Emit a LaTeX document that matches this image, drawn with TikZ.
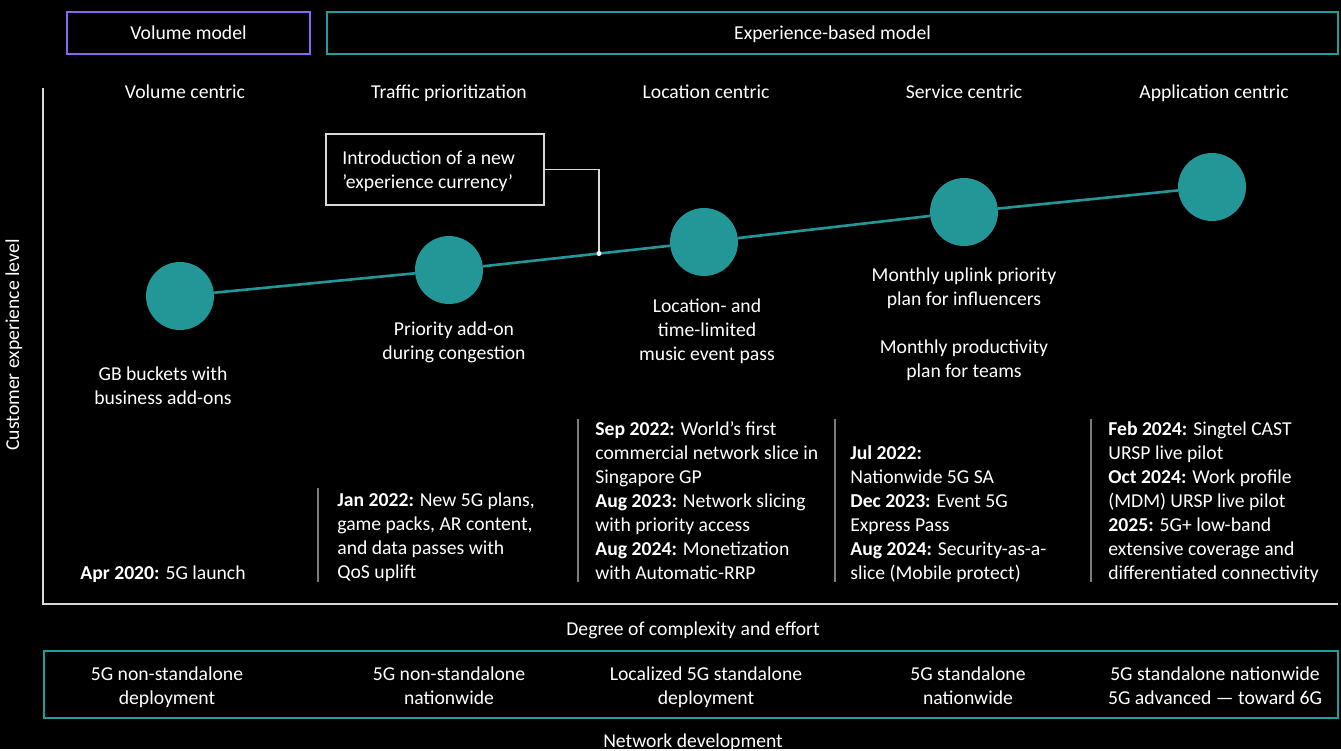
\documentclass[tikz,border=0pt]{standalone}
\usepackage{fontspec}
\setmainfont{Carlito}
\definecolor{slicegreen}{HTML}{239697}
\definecolor{edgeteal}{HTML}{1F9E9E}
\definecolor{volpurple}{HTML}{8C64F0}
\definecolor{sepgray}{HTML}{7C7C7C}
\definecolor{axisgray}{HTML}{D8D8D8}

\begin{document}
\begin{tikzpicture}[x=0.02cm,y=-0.02cm]
    \tikzstyle{every node}+=[text=white, font=\fontsize{11.2}{13.66}\selectfont, inner sep=0pt]
    \tikzstyle{stage}=[circle, fill=slicegreen, minimum size=1.36cm]
    \tikzstyle{txt}=[align=center, anchor=base]
    \tikzstyle{col}=[align=left, anchor=base west]
    \fill [black] (0,0) rectangle (1341,749);
    \draw [volpurple, line width=0.8pt] (67,12) rectangle (310,54);
    \draw [edgeteal, line width=0.8pt] (327,12) rectangle (1338,54);
    \node (volbox) [txt] at (188.5,39) {Volume model};
    \node (expbox) [txt] at (832.5,39) {Experience-based model};
    \node (h1) [txt] at (185,98) {Volume centric};
    \node (h2) [txt] at (449,98) {Traffic prioritization};
    \node (h3) [txt] at (706,98) {Location centric};
    \node (h4) [txt] at (964,98) {Service centric};
    \node (h5) [txt] at (1214,98) {Application centric};
    \node (ylab) [rotate=90] at (14,345) {Customer experience level};
    \coordinate (ytop) at (43,88);
    \coordinate (orig) at (43,604);
    \coordinate (xend) at (1338,604);
    \draw [axisgray, line width=0.9pt] (ytop) -- (orig) -- (xend);
    \node (c1) [stage] at (180,296) {};
    \node (c2) [stage] at (449,270) {};
    \node (c3) [stage] at (704,242) {};
    \node (c4) [stage] at (964,212) {};
    \node (c5) [stage] at (1212,187) {};
    \draw [slicegreen, line width=1.5pt] (c1) -- (c2) -- (c3) -- (c4) -- (c5);
    \coordinate (cur) at (599,253.5);
    \node (callbox) [draw=axisgray, line width=0.8pt, minimum width=4.36cm, minimum height=1.42cm] at (435,169.5) {};
    \node (callout) [col] at (342,188) {Introduction of a new\\’experience currency’};
    \draw [axisgray, line width=0.7pt] (callbox.east) -| (cur);
    \fill [white] (cur) circle (2.5);
    \node (d1) [txt] at (163,404) {GB buckets with\\business add-ons};
    \node (d2) [txt] at (454,359) {Priority add-on\\during congestion};
    \node (d3) [txt] at (707,360) {Location- and\\time-limited\\music event pass};
    \node (d4) [txt] at (964,305) {Monthly uplink priority\\plan for influencers};
    \node (d5) [txt] at (964,377) {Monthly productivity\\plan for teams};
    \draw [sepgray, line width=0.9pt] (318,488) -- (318,582);
    \draw [sepgray, line width=0.9pt] (578,419) -- (578,582);
    \draw [sepgray, line width=0.9pt] (835,419) -- (835,582);
    \draw [sepgray, line width=0.9pt] (1091,419) -- (1091,582);
    \node (m1) [col] at (80,579) {\textbf{Apr 2020:} 5G launch};
    \node (m2) [col] at (337,578) {\textbf{Jan 2022:} New 5G plans,\\game packs, AR content,\\and data passes with\\QoS uplift};
    \node (m3) [col] at (595,579) {\textbf{Sep 2022:} World's first\\commercial network slice in\\Singapore GP\\\textbf{Aug 2023:} Network slicing\\with priority access\\\textbf{Aug 2024:} Monetization\\with Automatic-RRP};
    \node (m4) [col] at (850,579) {\textbf{Jul 2022:}\\Nationwide 5G SA\\\textbf{Dec 2023:} Event 5G\\Express Pass\\\textbf{Aug 2024:} Security-as-a-\\slice (Mobile protect)};
    \node (m5) [col] at (1108,579) {\textbf{Feb 2024:} Singtel CAST\\URSP live pilot\\\textbf{Oct 2024:} Work profile\\(MDM) URSP live pilot\\\textbf{2025:} 5G+ low-band\\extensive coverage and\\differentiated connectivity};
    \node (xlab) [txt] at (693,635) {Degree of complexity and effort};
    \draw [edgeteal, line width=0.8pt] (44,651) rectangle (1338,718);
    \node (n1) [txt] at (167,704) {5G non-standalone\\deployment};
    \node (n2) [txt] at (449,704) {5G non-standalone\\nationwide};
    \node (n3) [txt] at (706,704) {Localized 5G standalone\\deployment};
    \node (n4) [txt] at (968,704) {5G standalone\\nationwide};
    \node (n5) [txt] at (1215,704) {5G standalone nationwide\\5G advanced — toward 6G};
    \node (netlab) [txt] at (693,747) {Network development};
\end{tikzpicture}
\end{document}
